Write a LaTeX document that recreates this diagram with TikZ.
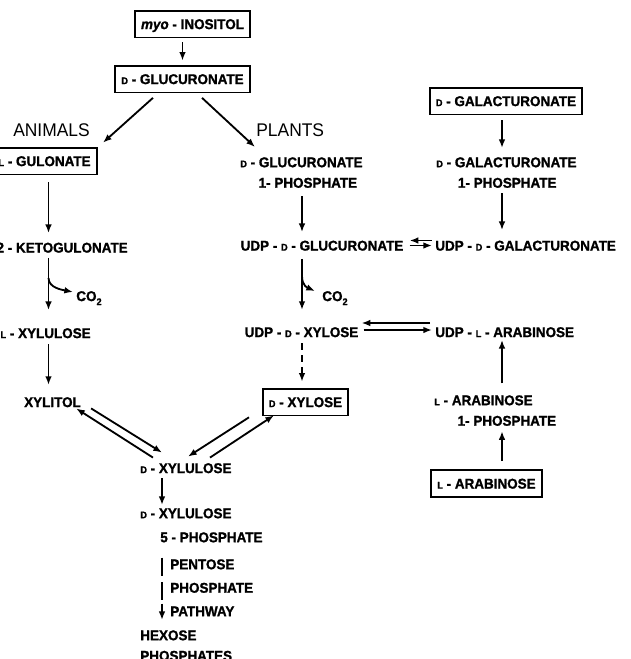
\documentclass[tikz,border=0pt]{standalone}
\usepackage{fontspec}
\setmainfont{Liberation Sans}[FakeStretch=0.95,
  BoldFeatures={FakeBold=1.3}, BoldItalicFeatures={FakeBold=1.3}]
\usetikzlibrary{arrows.meta,calc}

% small capital D and L, low subscript
\newcommand{\sD}{{\fontsize{5.8}{6}\selectfont D}}
\newcommand{\sL}{{\fontsize{5.8}{6}\selectfont L}}
\newcommand{\dn}[1]{\raisebox{-2.4pt}{\fontsize{5.8}{6}\selectfont #1}}
\newcommand{\cpdfont}{\fontsize{8.5}{12.3}\selectfont\bfseries}

\tikzset{
  cpd/.style={inner sep=0pt, font=\cpdfont, text height=6.1pt, text depth=0pt},
  cpdtwo/.style={inner sep=0pt, font=\cpdfont, align=left, anchor=north west},
  cbox/.style={draw, line width=1.1pt, inner xsep=3.6pt, inner ysep=5pt,
    font=\cpdfont, text height=6.1pt, text depth=0pt},
  grp/.style={inner sep=0pt, font=\fontsize{11}{13}\selectfont,
    text height=7.9pt, text depth=0pt},
  rx/.style={line width=1.1pt, -{Latex[length=5.2pt,width=4pt]}},
  gap/.style 2 args={shorten <=#1, shorten >=#2},
}

\begin{document}
\begin{tikzpicture}[x=0.6pt, y=-0.6pt]
  \useasboundingbox (0,0) rectangle (631,659);
  \clip (0,0) rectangle (631,659);

  % columns of the vertical steps
  \coordinate (lcol) at (48.5,0);
  \coordinate (mcol) at (302,0);
  \coordinate (rcol) at (502,0);
  \coordinate (ccol) at (162,0);

  % common start
  \node[cbox] (ino) at (192.5,24) {\textit{myo} - INOSITOL};
  \node[cbox] (glc) at (182.5,79) {\sD\ - GLUCURONATE};
  \node[grp] (animals) at (51.5,130) {ANIMALS};
  \node[grp, anchor=west] (plants) at (256,130) {PLANTS};

  % animals
  \node[cbox, anchor=east] (gul) at (97.5,161) {\sL\ - GULONATE};
  \node[cpd, anchor=east] (keto) at (128,247.5) {2 - KETOGULONATE};
  \node[cpd, anchor=west] (co2a) at (76,296) {CO\dn{2}};
  \node[cpd, anchor=east] (lxyl) at (91,333) {\sL\ - XYLULOSE};
  \node[cpd] (xylitol) at (52.5,402) {XYLITOL};

  % plants
  \node[cpdtwo] (glc1p) at (240,157) {\sD\ - GLUCURONATE\\\hspace*{11pt}1- PHOSPHATE};
  \node[cpd] (udpglc) at (322,245.5) {UDP - \sD\ - GLUCURONATE};
  \node[cpd, anchor=west] (co2b) at (322,296) {CO\dn{2}};
  \node[cpd] (udpxyl) at (301.5,332) {UDP - \sD\ - XYLOSE};
  \node[cbox] (dxyl) at (305.5,402) {\sD\ - XYLOSE};

  % galacturonate and arabinose
  \node[cbox] (gal) at (506,101) {\sD\ - GALACTURONATE};
  \node[cpdtwo] (gal1p) at (436,157) {\sD\ - GALACTURONATE\\\hspace*{13pt}1- PHOSPHATE};
  \node[cpd, anchor=west] (udpgal) at (435,245.5) {UDP - \sD\ - GALACTURONATE};
  \node[cpd, anchor=west] (udpara) at (435,332) {UDP - \sL\ - ARABINOSE};
  \node[cpdtwo] (ara1p) at (434,395) {\sL\ - ARABINOSE\\\hspace*{14pt}1- PHOSPHATE};
  \node[cbox] (lara) at (486.5,483.5) {\sL\ - ARABINOSE};

  % common end
  \node[cpd, anchor=west] (dxylu) at (140,468) {\sD\ - XYLULOSE};
  \node[cpdtwo] (xyl5p) at (140,508) {\sD\ - XYLULOSE\\[2.1pt]\hspace*{12pt}5 - PHOSPHATE};
  \node[cpdtwo] (ppp) at (170,559) {PENTOSE\\[1.8pt]PHOSPHATE\\[1.8pt]PATHWAY};
  \node[cpdtwo] (hexose) at (140,630) {HEXOSE\\PHOSPHATES};

  % top arrows
  \draw[rx, gap={2.4pt}{2.4pt}] (glc.north |- ino.south) -- (glc.north);
  \draw[rx] ($(glc.south)+(-29.5,4.5)$) -- ($(gul.north east)+(5.5,-4)$);
  \draw[rx] ($(glc.south)+(19.5,4.5)$) -- ($(glc1p.north west)+(15,-10)$);

  % animal route
  \draw[rx, gap={4.2pt}{5.4pt}] (lcol |- gul.south) -- (lcol |- keto.north);
  \draw[rx, gap={3pt}{10.5pt}] (lcol |- keto.south) -- (lcol |- lxyl.north);
  \draw[rx] ($(co2a.west)+(-27.5,-18)$) .. controls +(0,10) and +(-10,-2) .. ($(co2a.west)+(-3,-4)$);
  \draw[rx, gap={3.6pt}{7pt}] (lcol |- lxyl.south) -- (lcol |- xylitol.north);

  % plant route
  \draw[rx, gap={4.8pt}{4.8pt}] (mcol |- glc1p.south) -- (mcol |- udpglc.north);
  \draw[rx, gap={4.8pt}{10pt}] (mcol |- udpglc.south) -- (mcol |- udpxyl.north);
  \draw[rx] ($(co2b.west)+(-20,-20)$) .. controls +(0,10) and +(-7,-3) .. ($(co2b.west)+(-7,-5)$);
  \draw[rx, dash pattern=on 4pt off 3pt, gap={3.6pt}{3.6pt}] (mcol |- udpxyl.south) -- (mcol |- dxyl.north);

  % right column
  \draw[rx, gap={3pt}{5.4pt}] (rcol |- gal.south) -- (rcol |- gal1p.north);
  \draw[rx, gap={3pt}{6pt}] (rcol |- gal1p.south) -- (rcol |- udpgal.north);
  \draw[rx] ($(udpgal.west)+(-3,-5)$) -- ($(udpglc.east)+(6,-5)$);
  \draw[rx] ($(udpglc.east)+(6,0)$) -- ($(udpgal.west)+(-3,0)$);
  \draw[rx] ($(udpara.west)+(-5,-9)$) -- ($(udpxyl.east)+(3,-9)$);
  \draw[rx] ($(udpxyl.east)+(5,-2)$) -- ($(udpara.west)+(-3,-2)$);
  \draw[rx, gap={7pt}{1.5pt}] (rcol |- ara1p.north) -- (rcol |- udpara.south);
  \draw[rx, gap={4.8pt}{3pt}] (rcol |- lara.north) -- (rcol |- ara1p.south);

  % towards D-xylulose
  \draw[rx] ($(dxylu.north west)+(13,-5)$) -- ($(xylitol.south east)+(-5,1)$);
  \draw[rx] ($(xylitol.south east)+(10,1)$) -- ($(dxylu.north west)+(22,-10)$);
  \draw[rx] ($(dxyl.south west)+(-13,1)$) -- ($(dxylu.north west)+(48,-6)$);
  \draw[rx] ($(dxylu.north west)+(70,-5)$) -- ($(dxyl.south west)+(12,-1)$);
  \draw[rx, gap={3pt}{1.8pt}] (ccol |- dxylu.south) -- (ccol |- xyl5p.north);
  \draw[rx, gap={9pt}{6pt}, dash pattern=on 10.8pt off 4pt on 10.8pt off 2pt]
    (ccol |- xyl5p.south) -- (ccol |- hexose.north);
\end{tikzpicture}
\end{document}
